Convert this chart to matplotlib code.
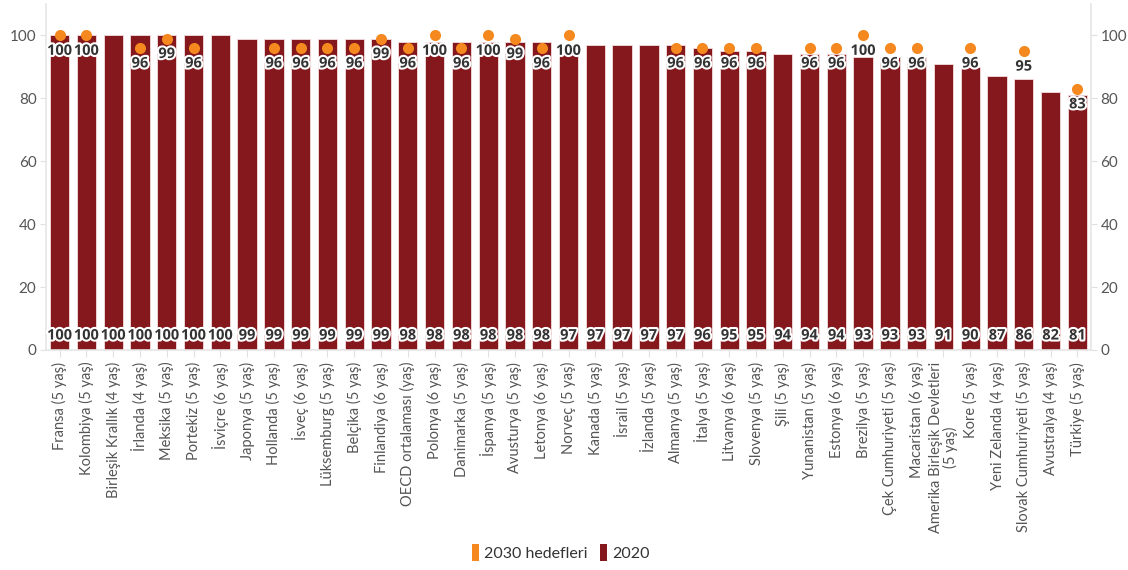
import matplotlib
matplotlib.use("Agg")
import matplotlib.pyplot as plt
import matplotlib.patheffects as pe
from matplotlib.patches import Patch
import numpy as np

categories = [
    "Fransa (5 yaş)", "Kolombiya (5 yaş)", "Birleşik Krallık (4 yaş)", "İrlanda (4 yaş)",
    "Meksika (5 yaş)", "Portekiz (5 yaş)", "İsviçre (6 yaş)", "Japonya (5 yaş)",
    "Hollanda (5 yaş)", "İsveç (6 yaş)", "Lüksemburg (5 yaş)", "Belçika (5 yaş)",
    "Finlandiya (6 yaş)", "OECD ortalaması (yaş)", "Polonya (6 yaş)", "Danimarka (5 yaş)",
    "İspanya (5 yaş)", "Avusturya (5 yaş)", "Letonya (6 yaş)", "Norveç (5 yaş)",
    "Kanada (5 yaş)", "İsrail (5 yaş)", "İzlanda (5 yaş)", "Almanya (5 yaş)",
    "İtalya (5 yaş)", "Litvanya (6 yaş)", "Slovenya (5 yaş)", "Şili (5 yaş)",
    "Yunanistan (5 yaş)", "Estonya (6 yaş)", "Brezilya (5 yaş)", "Çek Cumhuriyeti (5 yaş)",
    "Macaristan (6 yaş)", "Amerika Birleşik Devletleri\n(5 yaş)", "Kore (5 yaş)",
    "Yeni Zelanda (4 yaş)", "Slovak Cumhuriyeti (5 yaş)", "Avustralya (4 yaş)", "Türkiye (5 yaş)",
]
values_2020 = [100, 100, 100, 100, 100, 100, 100, 99, 99, 99, 99, 99, 99, 98, 98, 98, 98, 98, 98,
               97, 97, 97, 97, 97, 96, 95, 95, 94, 94, 94, 93, 93, 93, 91, 90, 87, 86, 82, 81]
targets_2030 = [100, 100, None, 96, 99, 96, None, None, 96, 96, 96, 96, 99, 96, 100, 96, 100, 99, 96,
                100, None, None, None, 96, 96, 96, 96, None, 96, 96, 100, 96, 96, None, 96, None, 95,
                None, 83]

BAR = "#84181c"
ORANGE = "#f5891f"
TEXT = "#555555"
LABEL = "#333333"

plt.rcParams['font.family'] = ['Lato', 'DejaVu Sans']

fig = plt.figure(figsize=(11.28, 5.7), dpi=100)
ax = fig.add_axes([0.041, 0.386, 0.926, 0.607])

x = np.arange(len(categories))
ax.bar(x, values_2020, width=0.72, color=BAR, edgecolor="#f3dede", linewidth=0.6, zorder=2)

halo = [pe.withStroke(linewidth=3, foreground="white")]
lab_kw = dict(ha="center", va="center", fontsize=10.5, fontweight="bold", fontstyle="normal",
              family=["Open Sans", "DejaVu Sans"], color=LABEL, path_effects=halo, zorder=5)
for xi, v in zip(x, values_2020):
    ax.text(xi, 4.6, f"{v}", **lab_kw)

tx = [xi for xi, t in zip(x, targets_2030) if t is not None]
ty = [t for t in targets_2030 if t is not None]
ax.scatter(tx, ty, s=64, color=ORANGE, zorder=4, linewidths=0)
for xi, t in zip(tx, ty):
    ax.text(xi, t - 4.9, f"{t}", **lab_kw)

ax.set_xlim(-0.5, len(categories) - 0.5)
ax.set_ylim(0, 110)
ax.set_xticks(x)
ax.set_xticklabels(categories, rotation=90, fontsize=10.5, color=TEXT, linespacing=1.0)
ax.set_yticks([0, 20, 40, 60, 80, 100])
ax.tick_params(axis="y", labelsize=11, labelcolor=TEXT, color="#e0e0e0", length=4, pad=3,
               left=True, right=True, labelleft=True, labelright=True)
ax.tick_params(axis="x", color="#e0e0e0", length=5)

ax.spines["top"].set_visible(False)
for s in ["left", "right", "bottom"]:
    ax.spines[s].set_color("#e6e6e6")
    ax.spines[s].set_linewidth(1.2)

handles = [Patch(facecolor=ORANGE, edgecolor="none", label="2030 hedefleri"),
           Patch(facecolor=BAR, edgecolor="none", label="2020")]
fig.legend(handles=handles, loc="center", bbox_to_anchor=(0.497, 0.031), ncol=2, frameon=False,
           fontsize=11.5, handlelength=0.45, handleheight=1.3, handletextpad=0.3, columnspacing=0.8,
           labelcolor=LABEL)

fig.savefig("out.png", dpi=100)
